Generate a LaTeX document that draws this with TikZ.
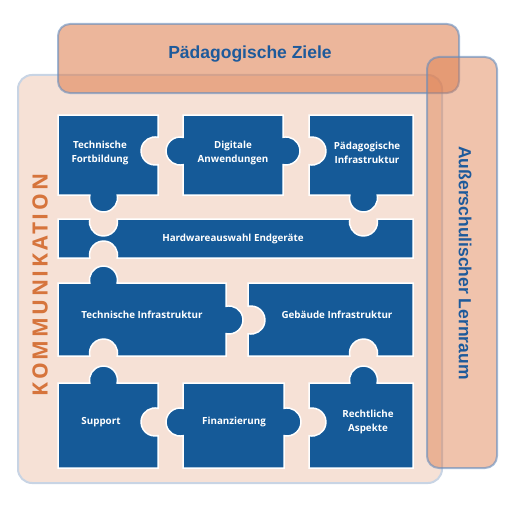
\documentclass[tikz,border=0pt]{standalone}
\usepackage{fontspec}
\setmainfont{Liberation Sans}
\newfontfamily\piecefont{Open Sans}
\newfontfamily\kommfont[LetterSpace=13]{Open Sans}

\definecolor{puzzleblue}{RGB}{21,90,152}
\definecolor{paleback}{RGB}{246,225,214}
\definecolor{paleline}{RGB}{200,212,228}
\definecolor{panelorange}{RGB}{221,122,72}
\definecolor{panelline}{RGB}{100,140,190}
\definecolor{titleblue}{RGB}{30,90,155}
\definecolor{kommorange}{RGB}{214,116,60}

% knobs and notches along the edges of a piece (clockwise on screen)
\newcommand{\knobT}[2]{-- ({#1-13.7},#2) arc (167.65:372.35:14)}
\newcommand{\notchT}[2]{-- ({#1-13.7},#2) arc (192.35:-12.35:14)}
\newcommand{\knobR}[2]{-- (#1,{#2-13.7}) arc (-102.35:102.35:14)}
\newcommand{\notchR}[2]{-- (#1,{#2-13.7}) arc (282.35:77.65:14)}
\newcommand{\knobB}[2]{-- ({#1+13.7},#2) arc (-12.35:192.35:14)}
\newcommand{\notchB}[2]{-- ({#1+13.7},#2) arc (12.35:-192.35:14)}
\newcommand{\knobL}[2]{-- (#1,{#2+13.7}) arc (77.65:282.35:14)}
\newcommand{\notchL}[2]{-- (#1,{#2+13.7}) arc (102.35:-102.35:14)}

\tikzset{
  piece/.style={fill=puzzleblue, draw=white, line width=1.5pt},
  piecetext/.style={text=white, align=center, font=\piecefont\bfseries\fontsize{9.8}{14.5}\selectfont},
  panel/.style={fill=panelorange, fill opacity=0.55, draw=panelline, draw opacity=0.6,
    line width=2pt, rounded corners=12pt},
  paneltext/.style={text=titleblue, font=\bfseries\fontsize{17.5}{20}\selectfont}
}

\begin{document}
\begin{tikzpicture}[x=1pt, y=-1pt]
  \useasboundingbox (0,0) rectangle (514,511);
  % background of the whole frame
  \draw[fill=paleback, draw=paleline, line width=2pt, rounded corners=14pt] (18,75) rectangle (442,483);
  \node[rotate=90, text=kommorange, font=\kommfont\bfseries\fontsize{21}{24}\selectfont] (komm) at (40,285) {KOMMUNIKATION};

  % first row
  \fill[piece] (58,115) -- (158,115) \notchR{158}{151} -- (158,195) \knobB{103.5}{195} -- (58,195) -- cycle;
  \fill[piece] (183,115) -- (283,115) \knobR{283}{151} -- (283,195) -- (183,195) \knobL{183}{151} -- cycle;
  \fill[piece] (309,115) -- (413,115) -- (413,195) \knobB{363.5}{195} -- (309,195) \notchL{309}{151} -- cycle;
  % second row
  \fill[piece] (58,219) \notchT{103.5}{219} \notchT{363.5}{219} -- (413,219) -- (413,258) \notchB{103.5}{258} -- (58,258) -- cycle;
  % third row
  \fill[piece] (58,283) \knobT{103.5}{283} -- (226,283) \knobR{226}{320} -- (226,356) \notchB{103.5}{356} -- (58,356) -- cycle;
  \fill[piece] (248,283) -- (413,283) -- (413,356) \notchB{363.5}{356} -- (248,356) \notchL{248}{320} -- cycle;
  % fourth row
  \fill[piece] (58,383) \knobT{103.5}{383} -- (158,383) \notchR{158}{422} -- (158,468) -- (58,468) -- cycle;
  \fill[piece] (183,383) -- (284,383) \knobR{284}{422} -- (284,468) -- (183,468) \knobL{183}{422} -- cycle;
  \fill[piece] (309,383) \knobT{363.5}{383} -- (413,383) -- (413,468) -- (309,468) \notchL{309}{422} -- cycle;

  \node[piecetext] (tfort) at (100,153) {Technische\\Fortbildung};
  \node[piecetext] (dig) at (233,153) {Digitale\\Anwendungen};
  \node[piecetext] (paedinf) at (367,153) {Pädagogische\\Infrastruktur};
  \node[piecetext] (hardw) at (233,239) {Hardwareauswahl Endgeräte};
  \node[piecetext] (techinf) at (142,315) {Technische Infrastruktur};
  \node[piecetext] (gebinf) at (337,315) {Gebäude Infrastruktur};
  \node[piecetext] (supp) at (101,422) {Support};
  \node[piecetext] (fin) at (234,422) {Finanzierung};
  \node[piecetext] (recht) at (368,422) {Rechtliche\\Aspekte};

  % the two overlapping panels
  \draw[panel] (58,24) rectangle (459,93);
  \draw[panel, fill opacity=0.45] (427,57) rectangle (497,468);
  \node[paneltext] (ziele) at (250,54) {Pädagogische Ziele};
  \node[paneltext, rotate=-90] (lernraum) at (465,263) {Außerschulischer Lernraum};
\end{tikzpicture}
\end{document}
